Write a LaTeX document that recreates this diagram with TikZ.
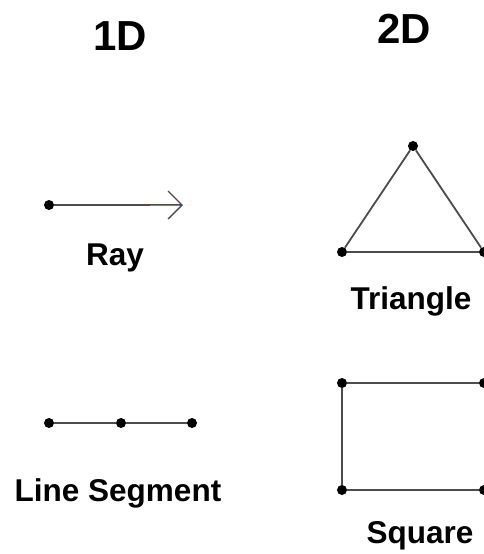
\documentclass[tikz,border=0pt]{standalone}
\usepackage{fontspec}
\setmainfont{Liberation Sans}
\usetikzlibrary{arrows.meta}
\begin{document}
\begin{tikzpicture}[x=1pt,y=-1pt,
  dot/.style={circle,fill=black,inner sep=0pt,minimum size=10pt},
  edge/.style={draw=black!70,line width=1.8pt},
  head/.style={font=\fontsize{42}{42}\selectfont\bfseries,inner sep=0pt},
  lab/.style={font=\fontsize{31.5}{31.5}\selectfont\bfseries,inner sep=0pt}]
\useasboundingbox (0,0) rectangle (483,554);
% headings
\node[head] (h1) at (120,36) {1D};
\node[head] (h2) at (404,29) {2D};
% ray
\node[dot] (r0) at (49,205) {};
\coordinate (rt) at (183,205);
\coordinate (rm) at (150,205);
\draw[edge,-{Straight Barb[length=14pt,width=28pt,line width=1.4pt]}] (r0) -- (rt);
\draw[draw=orange!85!black,line width=1pt] (rm) -- ([xshift=-3pt]rt);
\node[lab,anchor=base] (rl) at (115,265) {Ray};
% line segment
\node[dot] (s0) at (49,423) {};
\node[dot] (s1) at (121,423) {};
\node[dot] (s2) at (192,423) {};
\draw[edge] (s0) -- (s1) -- (s2);
\node[lab,anchor=base] (sl) at (118,501) {Line Segment};
% triangle
\node[dot] (t0) at (413,146) {};
\node[dot] (t1) at (342,252) {};
\node[dot] (t2) at (484,252) {};
\draw[edge] (t0) -- (t1) -- (t2) -- (t0);
\node[lab,anchor=base] (tl) at (411,309) {Triangle};
% square
\node[dot] (q0) at (342,383) {};
\node[dot] (q1) at (484,383) {};
\node[dot] (q2) at (342,490) {};
\node[dot] (q3) at (484,490) {};
\draw[edge] (q1) -- (q0) -- (q2) -- (q3);
\node[lab,anchor=base] (ql) at (420,543) {Square};
\end{tikzpicture}
\end{document}
